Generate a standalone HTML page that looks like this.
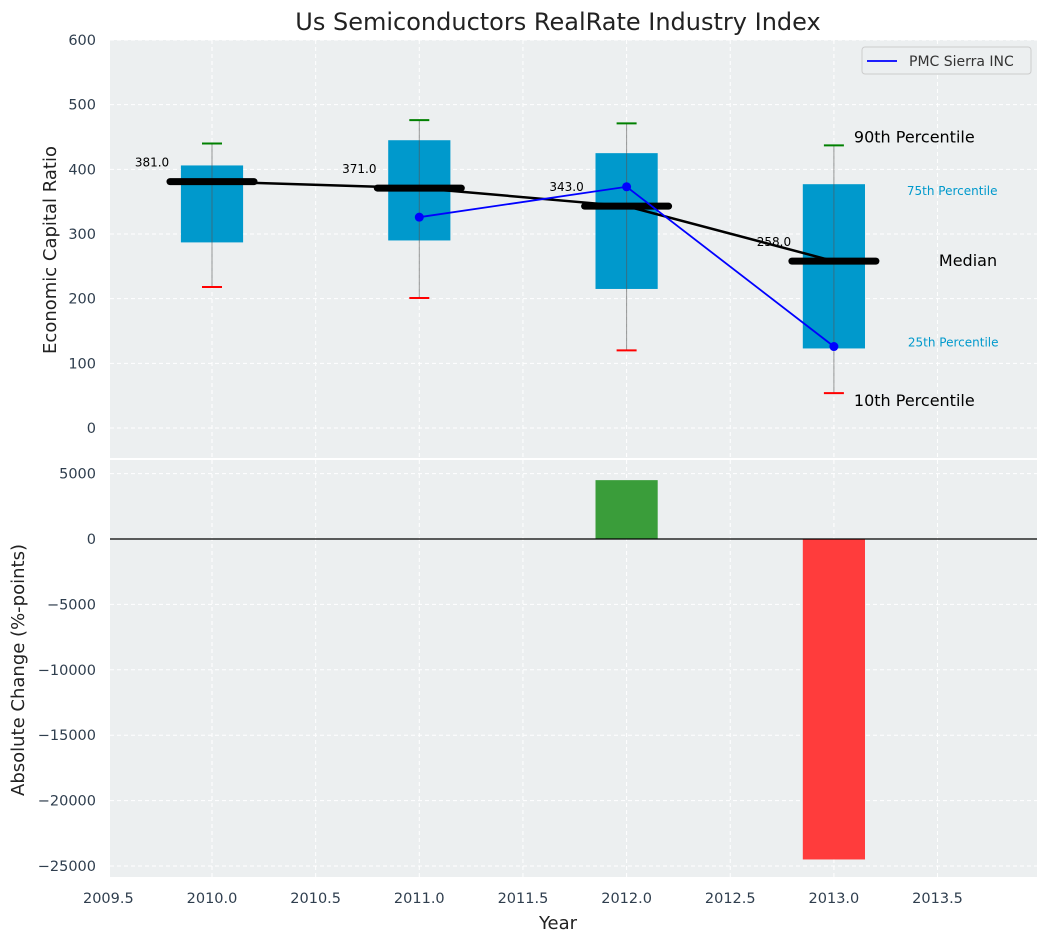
<!DOCTYPE html>
<html><head><meta charset="utf-8"><style>
body{margin:0;background:#fff;}
svg text{font-family:"DejaVu Sans","Liberation Sans",sans-serif;}
</style></head><body>
<svg id="chart" width="1048" height="942" xmlns="http://www.w3.org/2000/svg">
<text x="558" y="30" font-size="24" text-anchor="middle" fill="#222">Us Semiconductors RealRate Industry Index</text>
<g id="topPanel"></g>
<g id="botPanel"></g>
</svg>
<script>
const years=[2010,2011,2012,2013];
const p10=[218,201,120,54];
const p25=[287,290,215,123];
const med=[381,371,343,258];
const p75=[406,445,425,377];
const p90=[440,476,471,437];
const pmcYears=[2011,2012,2013];
const pmcVals=[326,373,126];
const chgYears=[2012,2013];
const chgVals=[4500,-24500];
const xTicks=[2009.5,2010,2010.5,2011,2011.5,2012,2012.5,2013,2013.5];
const yTopTicks=[0,100,200,300,400,500,600];
const yBotTicks=[5000,0,-5000,-10000,-15000,-20000,-25000];

const NS='http://www.w3.org/2000/svg';
const L=110,R=1037;
const x=v=>212+(v-2010)*207.3;
const yT=v=>428-v*0.6467;
const yB=v=>539-v*65.4/5000;
const T1=40,B1=458,T2=460,B2=877;
const fmt=v=>String(v).replace('-','\u2212');
function mk(p,t,a){const e=document.createElementNS(NS,t);for(const k in a)e.setAttribute(k,a[k]);p.appendChild(e);return e;}
const gTop=document.getElementById('topPanel'),gBot=document.getElementById('botPanel'),svg=document.getElementById('chart');
let r=mk(gTop,'rect',{x:L,y:T1,width:R-L,height:B1-T1,fill:'#eceff0'});


r=mk(gBot,'rect',{x:L,y:T2,width:R-L,height:B2-T2,fill:'#eceff0'});


xTicks.forEach(t=>{
  [[gTop,T1,B1],[gBot,T2,B2]].forEach(([g,a,b])=>mk(g,'line',{x1:x(t),x2:x(t),y1:a,y2:b,stroke:'#fff','stroke-dasharray':'4,3','stroke-width':1}));
  const tx=mk(svg,'text',{x:x(t),y:903,'font-size':14.5,'text-anchor':'middle',fill:'#2f3e4e'});tx.textContent=t.toFixed(1);
  
  
});
yTopTicks.forEach(t=>{
  mk(gTop,'line',{x1:L,x2:R,y1:yT(t),y2:yT(t),stroke:'#fff','stroke-dasharray':'4,3'});
  const tx=mk(svg,'text',{x:96,y:yT(t)+5,'font-size':14.5,'text-anchor':'end',fill:'#2f3e4e'});tx.textContent=fmt(t);
  
  
});
yBotTicks.forEach(t=>{
  mk(gBot,'line',{x1:L,x2:R,y1:yB(t),y2:yB(t),stroke:'#fff','stroke-dasharray':'4,3'});
  const tx=mk(svg,'text',{x:96,y:yB(t)+5,'font-size':14.5,'text-anchor':'end',fill:'#2f3e4e'});tx.textContent=fmt(t);
  
  
});
const bw=0.3*207.3;
years.forEach((yr,i)=>{
  const cx=x(yr);
  const b=mk(gTop,'rect',{x:cx-bw/2,y:yT(p75[i]),width:bw,height:yT(p25[i])-yT(p75[i]),fill:'#0099cc'});
  
  
  mk(gTop,'line',{x1:cx,x2:cx,y1:yT(p90[i]),y2:yT(p10[i]),stroke:'#555','stroke-opacity':0.6,'stroke-width':1});
  mk(gTop,'line',{x1:cx-10,x2:cx+10,y1:yT(p90[i]),y2:yT(p90[i]),stroke:'green','stroke-width':2});
  mk(gTop,'line',{x1:cx-10,x2:cx+10,y1:yT(p10[i]),y2:yT(p10[i]),stroke:'red','stroke-width':2});
});
let pts=years.map((yr,i)=>x(yr)+','+yT(med[i])).join(' ');
let pl=mk(gTop,'polyline',{points:pts,fill:'none',stroke:'#000','stroke-width':2.5});


years.forEach((yr,i)=>{
  const cx=x(yr);
  const m=mk(gTop,'line',{x1:cx-42,x2:cx+42,y1:yT(med[i]),y2:yT(med[i]),stroke:'#000','stroke-width':7,'stroke-linecap':'round'});
  
  
  const t=mk(gTop,'text',{x:cx-60,y:yT(med[i])-15,'font-size':12,'text-anchor':'middle',fill:'#000'});t.textContent=med[i].toFixed(1);
  
  
});
pts=pmcYears.map((yr,i)=>x(yr)+','+yT(pmcVals[i])).join(' ');
pl=mk(gTop,'polyline',{points:pts,fill:'none',stroke:'blue','stroke-width':1.8});


pmcYears.forEach((yr,i)=>{
  const c=mk(gTop,'circle',{cx:x(yr),cy:yT(pmcVals[i]),r:4.5,fill:'blue'});
  
  
});
const lx=x(2013);
[['90th Percentile',lx+20,yT(p90[3])-3,16,'#000','start'],['10th Percentile',lx+20,yT(p10[3])+13,16,'#000','start'],
 ['75th Percentile',lx+73,yT(p75[3])+11,12,'#0099cc','start'],['25th Percentile',lx+74,yT(p25[3])-2,12,'#0099cc','start'],
 ['Median',lx+105,yT(med[3])+5,16,'#000','start']].forEach(a=>{
  const t=mk(gTop,'text',{x:a[1],y:a[2],'font-size':a[3],fill:a[4],'text-anchor':a[5]});t.textContent=a[0];
  
  
});
chgYears.forEach((yr,i)=>{
  const v=chgVals[i];
  const b=mk(gBot,'rect',{x:x(yr)-bw/2,y:Math.min(yB(v),yB(0)),width:bw,height:Math.abs(yB(v)-yB(0)),fill:v>=0?'#3a9d3a':'#ff3c3c'});
  
  
});
mk(gBot,'line',{x1:L,x2:R,y1:yB(0),y2:yB(0),stroke:'#000','stroke-width':1.2});
const lg=mk(svg,'g',{});


mk(lg,'rect',{x:862,y:47,width:169,height:27,rx:3,fill:'#eceff0',stroke:'#ccc'});
mk(lg,'line',{x1:867,x2:897,y1:61,y2:61,stroke:'blue','stroke-width':1.8});
const lt=mk(lg,'text',{x:909,y:66,'font-size':14,fill:'#333'});lt.textContent='PMC Sierra INC';


let t=mk(svg,'text',{x:558,y:929,'font-size':18,'text-anchor':'middle',fill:'#222'});t.textContent='Year';


t=mk(svg,'text',{x:0,y:0,'font-size':18,'text-anchor':'middle',fill:'#222',transform:'translate(56,250) rotate(-90)'});t.textContent='Economic Capital Ratio';


t=mk(svg,'text',{x:0,y:0,'font-size':18,'text-anchor':'middle',fill:'#222',transform:'translate(24,670) rotate(-90)'});t.textContent='Absolute Change (%-points)';


</script>
</body></html>
